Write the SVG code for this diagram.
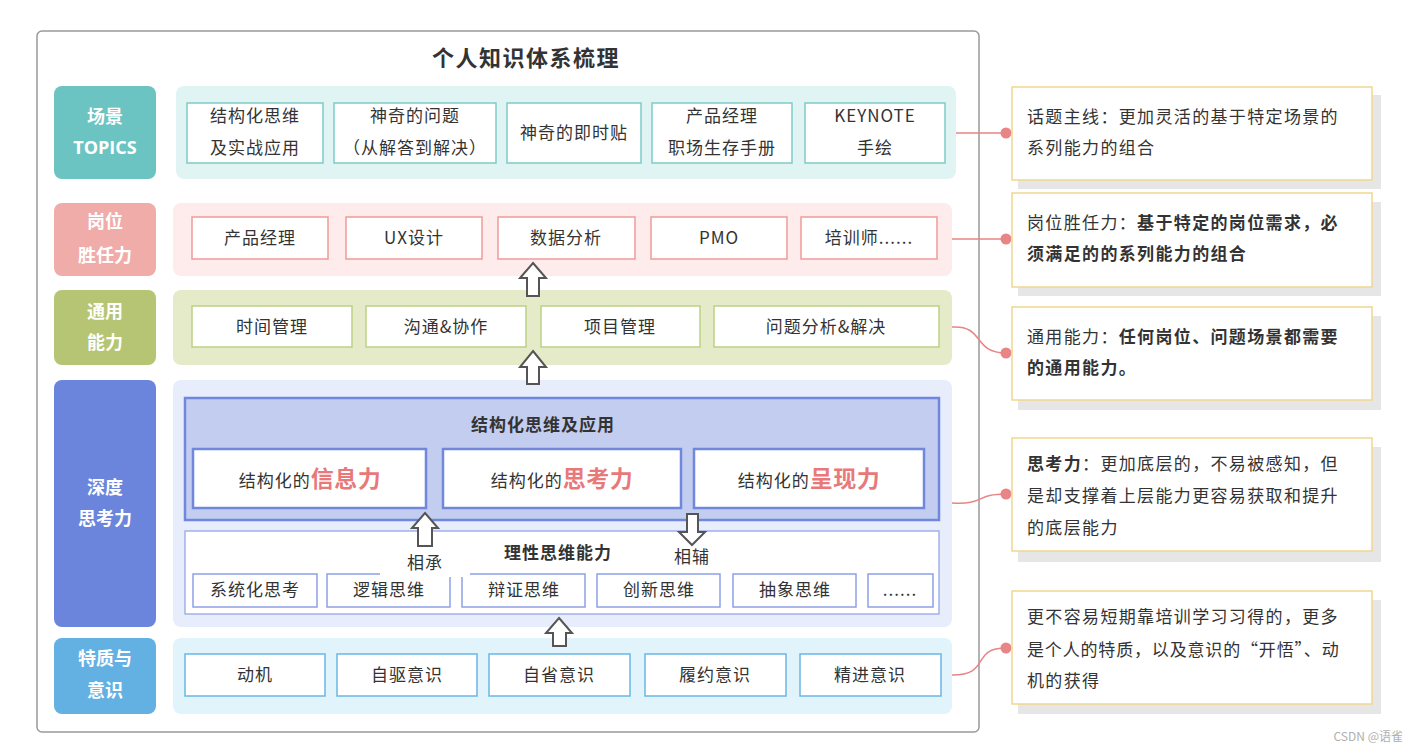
<svg xmlns="http://www.w3.org/2000/svg" width="1418" height="752" viewBox="0 0 1418 752">
<style>
text{font-family:"Noto Sans CJK SC","Noto Sans",sans-serif;fill:#333}
.t{font-size:17px;letter-spacing:1px;text-anchor:middle}
.lab{font-size:18px;font-weight:bold;fill:#fff;text-anchor:middle}
.n{font-size:17px;letter-spacing:1.35px}
.b{font-weight:bold}
.red{fill:#e8797a;font-weight:bold;font-size:23px;letter-spacing:0.5px}
.frame{fill:#fff;stroke:#999;stroke-width:1.5}
.b1{fill:#fff;stroke:#7ccbc9;stroke-width:1.5}
.b2{fill:#fff;stroke:#f09a98;stroke-width:1.5}
.b3{fill:#fff;stroke:#bcd185;stroke-width:1.5}
.b4{fill:#fff;stroke:#6f88de;stroke-width:2.5}
.b4s{fill:#fff;stroke:#8ea0e6;stroke-width:1.5}
.b5{fill:#fff;stroke:#6ab6e6;stroke-width:1.5}
.note{fill:#fff;stroke:#f0d690;stroke-width:1.5}
.shadow{fill:#e6e6e6}
.arr{fill:#fff;stroke:#555;stroke-width:2;stroke-linejoin:miter}
.con{fill:none;stroke:#e88585;stroke-width:1.5}
.dot{fill:#e88585}
</style>
<rect x="0" y="0" width="1418" height="752" fill="#fff"/>
<rect class="frame" x="37" y="31" width="942" height="701" rx="5"/>
<text x="526" y="66" style="font-size:22px;font-weight:bold;letter-spacing:1.5px;text-anchor:middle">个人知识体系梳理</text>

<g id="row-topics">
<rect x="54" y="86" width="102" height="93" rx="8" fill="#6cc4c2"/>
<text class="lab" x="105" y="123">场景</text>
<text class="lab" x="105" y="154" style="font-family:'Open Sans','Noto Sans',sans-serif">TOPICS</text>
<rect x="176" y="86" width="780" height="93" rx="8" fill="#e0f5f3"/>
<rect class="b1" x="187" y="103" width="136" height="60"/>
<text class="t" x="255" y="122">结构化思维</text><text class="t" x="255" y="154">及实战应用</text>
<rect class="b1" x="334" y="103" width="162" height="60"/>
<text class="t" x="415" y="122">神奇的问题</text><text class="t" x="415" y="154">（从解答到解决）</text>
<rect class="b1" x="507" y="103" width="134" height="60"/>
<text class="t" x="574" y="139">神奇的即时贴</text>
<rect class="b1" x="652" y="103" width="140" height="60"/>
<text class="t" x="722" y="122">产品经理</text><text class="t" x="722" y="154">职场生存手册</text>
<rect class="b1" x="805" y="103" width="140" height="60"/>
<text class="t" x="875" y="122">KEYNOTE</text><text class="t" x="875" y="154">手绘</text>
</g>

<g id="row-job">
<rect x="54" y="203" width="102" height="73" rx="8" fill="#f0aca9"/>
<text class="lab" x="105" y="228">岗位</text>
<text class="lab" x="105" y="262">胜任力</text>
<rect x="173" y="203" width="779" height="73" rx="8" fill="#fdeceb"/>
<rect class="b2" x="192" y="217" width="136" height="42"/><text class="t" x="260" y="244">产品经理</text>
<rect class="b2" x="346" y="217" width="136" height="42"/><text class="t" x="414" y="244">UX设计</text>
<rect class="b2" x="498" y="217" width="137" height="42"/><text class="t" x="566" y="244">数据分析</text>
<rect class="b2" x="651" y="217" width="136" height="42"/><text class="t" x="719" y="244">PMO</text>
<rect class="b2" x="801" y="217" width="136" height="42"/><text class="t" x="869" y="244">培训师......</text>
</g>

<g id="row-general">
<rect x="54" y="290" width="102" height="75" rx="8" fill="#b5c573"/>
<text class="lab" x="105" y="318">通用</text>
<text class="lab" x="105" y="349">能力</text>
<rect x="173" y="290" width="779" height="75" rx="8" fill="#e5ebc9"/>
<rect class="b3" x="192" y="306" width="160" height="41"/><text class="t" x="272" y="333">时间管理</text>
<rect class="b3" x="366" y="306" width="160" height="41"/><text class="t" x="446" y="333">沟通&amp;协作</text>
<rect class="b3" x="541" y="306" width="159" height="41"/><text class="t" x="620" y="333">项目管理</text>
<rect class="b3" x="714" y="306" width="225" height="41"/><text class="t" x="826" y="333">问题分析&amp;解决</text>
</g>

<g id="row-deep">
<rect x="54" y="380" width="102" height="247" rx="8" fill="#6b84dc"/>
<text class="lab" x="105" y="494">深度</text>
<text class="lab" x="105" y="525">思考力</text>
<rect x="173" y="380" width="779" height="247" rx="8" fill="#e7edfa"/>
<rect x="185" y="398" width="754" height="122" fill="#c3cdef" stroke="#6f88de" stroke-width="2.5"/>
<text x="543" y="431" style="font-size:17px;font-weight:bold;letter-spacing:1px;text-anchor:middle">结构化思维及应用</text>
<rect class="b4" x="193" y="449" width="233" height="59"/>
<text class="t" x="310" y="487">结构化的<tspan class="red">信息力</tspan></text>
<rect class="b4" x="443" y="449" width="238" height="59"/>
<text class="t" x="562" y="487">结构化的<tspan class="red">思考力</tspan></text>
<rect class="b4" x="694" y="449" width="230" height="59"/>
<text class="t" x="809" y="487">结构化的<tspan class="red">呈现力</tspan></text>
<rect x="185" y="531" width="754" height="83" fill="#fff" stroke="#8ea0e6" stroke-width="1.2"/>
<text x="558" y="559" style="font-size:17px;font-weight:bold;letter-spacing:1px;text-anchor:middle">理性思维能力</text>
<rect class="b4s" x="193" y="574" width="124" height="33"/><text class="t" x="255" y="596">系统化思考</text>
<rect class="b4s" x="327" y="574" width="123" height="33"/><text class="t" x="389" y="596">逻辑思维</text>
<rect class="b4s" x="462" y="574" width="123" height="33"/><text class="t" x="524" y="596">辩证思维</text>
<rect class="b4s" x="597" y="574" width="123" height="33"/><text class="t" x="659" y="596">创新思维</text>
<rect class="b4s" x="733" y="574" width="123" height="33"/><text class="t" x="795" y="596">抽象思维</text>
<rect class="b4s" x="868" y="574" width="65" height="33"/><text class="t" x="900" y="596">......</text>
</g>

<g id="row-trait">
<rect x="54" y="638" width="102" height="76" rx="8" fill="#63b1e3"/>
<text class="lab" x="105" y="665">特质与</text>
<text class="lab" x="105" y="697">意识</text>
<rect x="173" y="638" width="779" height="76" rx="8" fill="#e1f3fb"/>
<rect class="b5" x="185" y="654" width="140" height="42"/><text class="t" x="255" y="681">动机</text>
<rect class="b5" x="337" y="654" width="140" height="42"/><text class="t" x="407" y="681">自驱意识</text>
<rect class="b5" x="489" y="654" width="141" height="42"/><text class="t" x="559" y="681">自省意识</text>
<rect class="b5" x="645" y="654" width="141" height="42"/><text class="t" x="715" y="681">履约意识</text>
<rect class="b5" x="800" y="654" width="141" height="42"/><text class="t" x="870" y="681">精进意识</text>
</g>

<g id="arrows">
<path class="arr" d="M533,263 L546,278 L539,278 L539,296 L527,296 L527,278 L520,278 Z"/>
<path class="arr" d="M533,351 L546,367 L539,367 L539,384 L527,384 L527,367 L520,367 Z"/>
<path class="arr" d="M425,513 L438,528 L432,528 L432,546 L418,546 L418,528 L412,528 Z"/>
<path class="arr" d="M687,514 L698,514 L698,532 L705,532 L692,545 L679,532 L687,532 Z"/>
<path class="arr" d="M559,618 L572,633 L566,633 L566,646 L553,646 L553,633 L546,633 Z"/>
<rect x="380" y="549" width="90" height="28" fill="#fff"/>
<text class="t" x="425" y="569">相承</text>
<text class="t" x="692" y="563">相辅</text>
</g>

<g id="connectors">
<path class="con" d="M956,133 L1006,133"/>
<path class="con" d="M952,239 L1006,239"/>
<path class="con" d="M952,327 C985,325 972,353 1006,353"/>
<path class="con" d="M952,503 C985,505 975,494 1006,494"/>
<path class="con" d="M952,675 C992,675 970,648 1006,648"/>
<circle class="dot" cx="1006" cy="133" r="5.5"/>
<circle class="dot" cx="1006" cy="239" r="5.5"/>
<circle class="dot" cx="1006" cy="353" r="5.5"/>
<circle class="dot" cx="1006" cy="494" r="5.5"/>
<circle class="dot" cx="1006" cy="648" r="5.5"/>
</g>

<g id="note1">
<rect class="shadow" x="1018" y="95" width="363" height="94"/>
<rect class="note" x="1012" y="87" width="360" height="93"/>
<text class="n" x="1027" y="123">话题主线：更加灵活的基于特定场景的</text>
<text class="n" x="1027" y="154">系列能力的组合</text>
</g>
<g id="note2">
<rect class="shadow" x="1018" y="202" width="363" height="94"/>
<rect class="note" x="1012" y="193" width="360" height="94"/>
<text class="n" x="1027" y="229">岗位胜任力：<tspan class="b">基于特定的岗位需求，必</tspan></text>
<text class="n b" x="1027" y="260">须满足的的系列能力的组合</text>
</g>
<g id="note3">
<rect class="shadow" x="1018" y="316" width="363" height="94"/>
<rect class="note" x="1012" y="307" width="360" height="93"/>
<text class="n" x="1027" y="343">通用能力：<tspan class="b">任何岗位、问题场景都需要</tspan></text>
<text class="n b" x="1027" y="374">的通用能力。</text>
</g>
<g id="note4">
<rect class="shadow" x="1018" y="447" width="363" height="115"/>
<rect class="note" x="1012" y="438" width="360" height="113"/>
<text class="n" x="1027" y="470"><tspan class="b">思考力</tspan>：更加底层的，不易被感知，但</text>
<text class="n" x="1027" y="502">是却支撑着上层能力更容易获取和提升</text>
<text class="n" x="1027" y="534">的底层能力</text>
</g>
<g id="note5">
<rect class="shadow" x="1018" y="600" width="363" height="114"/>
<rect class="note" x="1012" y="591" width="360" height="113"/>
<text class="n" x="1027" y="623">更不容易短期靠培训学习习得的，更多</text>
<text class="n" x="1027" y="656" textLength="313" lengthAdjust="spacing">是个人的特质，以及意识的“开悟”、动</text>
<text class="n" x="1027" y="687">机的获得</text>
</g>
<text x="1403" y="741" style="font-size:12px;fill:#b0b0b0;text-anchor:end">CSDN @语雀</text>
</svg>
